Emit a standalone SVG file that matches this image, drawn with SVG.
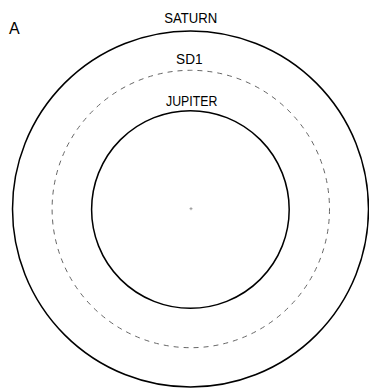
<svg xmlns="http://www.w3.org/2000/svg" width="369" height="388" viewBox="0 0 369 388">
<style>
.orbit{fill:none;stroke:#000;stroke-width:1.5}
.dash{fill:none;stroke:#666;stroke-width:1;stroke-dasharray:5 5}
.lbl{font-family:"Liberation Sans",Arial,sans-serif;font-size:14px;fill:#000;text-anchor:middle}
</style>
<rect width="369" height="388" fill="#fff"/>
<text x="9" y="34" font-family="Liberation Sans,Arial,sans-serif" font-size="16" fill="#000">A</text>
<g id="saturn">
<circle class="orbit" cx="190.5" cy="209" r="178"/>
<text class="lbl" x="190.7" y="23.3" textLength="53" lengthAdjust="spacingAndGlyphs">SATURN</text>
</g>
<g id="sd1">
<circle class="dash" cx="190.8" cy="209" r="138.7"/>
<text class="lbl" x="189.3" y="64" textLength="26.5" lengthAdjust="spacingAndGlyphs">SD1</text>
</g>
<g id="jupiter">
<circle class="orbit" cx="190.4" cy="209.5" r="98.8"/>
<text class="lbl" x="191.7" y="106" textLength="51.3" lengthAdjust="spacingAndGlyphs">JUPITER</text>
</g>
<g id="center">
<path d="M189.5 208.7h3M191 207.2v3" stroke="#888" stroke-width="0.8" fill="none"/>
</g>
<g id="connectors"></g>
</svg>
